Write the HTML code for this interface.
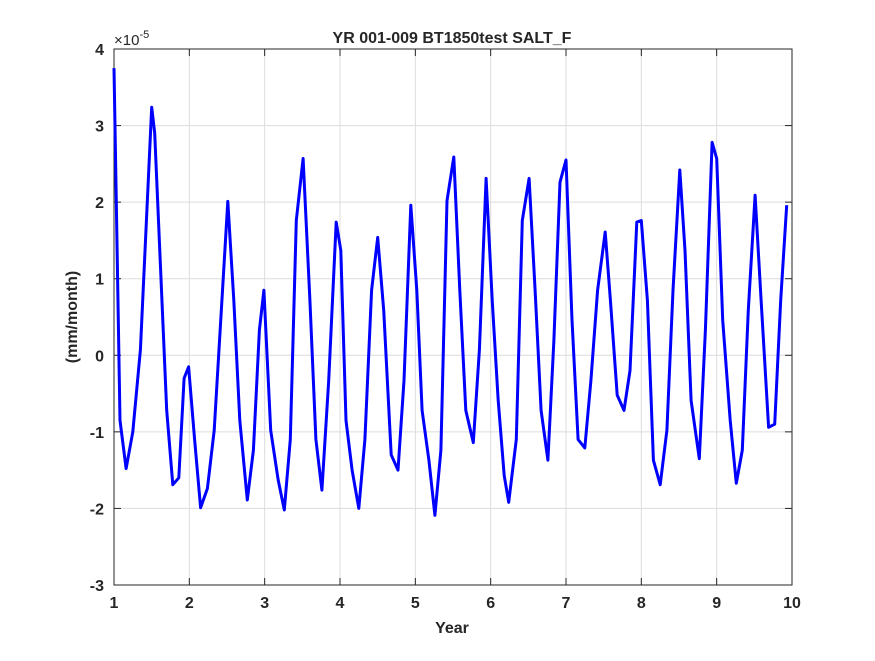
<!DOCTYPE html>
<html><head><meta charset="utf-8"><style>
body{margin:0;background:#fff;}
svg text{font-family:"Liberation Sans",sans-serif;fill:#262626;font-weight:bold;}
</style></head><body>
<svg id="chart" width="875" height="656" viewBox="0 0 875 656" xmlns="http://www.w3.org/2000/svg">
<rect width="875" height="656" fill="#fff"/>
<rect x="114" y="49" width="678" height="536" fill="#fff"/>
<g id="grid"></g>
<g id="ticks"></g>
<rect x="114" y="49" width="678" height="536" fill="none" stroke="#262626" stroke-width="1"/>
<polyline id="series" fill="none" stroke="#0000ff" stroke-width="3" stroke-linejoin="round"/>
<text x="452" y="43" font-size="16" text-anchor="middle">YR 001-009 BT1850test SALT_F</text>
<text x="114" y="45" font-size="15" font-weight="normal" style="font-weight:normal">×10<tspan dy="-7" font-size="11">-5</tspan></text>
<text x="452" y="633" font-size="16" text-anchor="middle">Year</text>
<text transform="translate(77,317) rotate(-90)" font-size="16" text-anchor="middle">(mm/month)</text>
</svg>
<script>
const xTicks=[1,2,3,4,5,6,7,8,9,10];
const yTicks=[-3,-2,-1,0,1,2,3,4];
const times=[1.0,1.03,1.08,1.16,1.25,1.35,1.50,1.54,1.70,1.78,1.86,1.93,1.99,2.07,2.15,2.24,2.33,2.51,2.59,2.67,2.77,2.85,2.93,2.99,3.08,3.18,3.26,3.34,3.42,3.51,3.60,3.68,3.76,3.85,3.95,4.01,4.08,4.16,4.25,4.33,4.42,4.50,4.58,4.68,4.77,4.85,4.94,5.02,5.09,5.18,5.26,5.34,5.42,5.51,5.59,5.67,5.77,5.85,5.94,6.02,6.10,6.18,6.24,6.34,6.42,6.51,6.59,6.67,6.76,6.84,6.92,7.0,7.08,7.16,7.25,7.33,7.42,7.52,7.59,7.68,7.77,7.85,7.94,8.0,8.08,8.16,8.25,8.34,8.42,8.51,8.58,8.66,8.77,8.85,8.94,9.0,9.08,9.18,9.26,9.34,9.42,9.51,9.59,9.69,9.77,9.85,9.93];
const values=[3.75,2.0,-0.85,-1.48,-1.0,0.07,3.24,2.9,-0.72,-1.69,-1.6,-0.3,-0.15,-1.1,-1.99,-1.74,-0.98,2.01,0.72,-0.85,-1.89,-1.24,0.33,0.85,-0.98,-1.63,-2.02,-1.1,1.76,2.57,0.72,-1.1,-1.76,-0.33,1.74,1.37,-0.85,-1.5,-2.0,-1.1,0.85,1.54,0.59,-1.3,-1.5,-0.33,1.96,0.85,-0.72,-1.37,-2.09,-1.24,2.02,2.59,0.85,-0.72,-1.14,0.07,2.31,0.72,-0.59,-1.57,-1.92,-1.1,1.76,2.31,0.85,-0.72,-1.37,0.2,2.26,2.55,0.46,-1.1,-1.21,-0.33,0.85,1.61,0.72,-0.52,-0.72,-0.2,1.74,1.76,0.72,-1.37,-1.69,-0.98,0.85,2.42,1.37,-0.59,-1.35,0.33,2.78,2.57,0.46,-0.85,-1.67,-1.24,0.59,2.09,0.72,-0.94,-0.9,0.72,1.96];
const X=t=>114+(t-1)*(678/9);
const Y=v=>585-(v+3)*(536/7);
const NS='http://www.w3.org/2000/svg';
const grid=document.getElementById('grid'), ticks=document.getElementById('ticks');
function mk(tag,attrs,parent){const e=document.createElementNS(NS,tag);for(const k in attrs)e.setAttribute(k,attrs[k]);parent.appendChild(e);return e;}
xTicks.forEach(t=>{
  const x=X(t);
  const g=mk('line',{x1:x,x2:x,y1:49,y2:585,stroke:'#dcdcdc','stroke-width':1},grid);
  
  
  mk('line',{x1:x,x2:x,y1:585,y2:578,stroke:'#262626'},ticks);
  mk('line',{x1:x,x2:x,y1:49,y2:56,stroke:'#262626'},ticks);
  const l=mk('text',{x:x,y:608,'font-size':16,'text-anchor':'middle'},ticks);
  l.textContent=t;
  
  
});
yTicks.forEach(v=>{
  const y=Y(v);
  const g=mk('line',{x1:114,x2:792,y1:y,y2:y,stroke:'#dcdcdc','stroke-width':1},grid);
  
  
  mk('line',{x1:114,x2:121,y1:y,y2:y,stroke:'#262626'},ticks);
  mk('line',{x1:792,x2:785,y1:y,y2:y,stroke:'#262626'},ticks);
  const l=mk('text',{x:104,y:y+6,'font-size':16,'text-anchor':'end'},ticks);
  l.textContent=v;
  
  
});
document.getElementById('series').setAttribute('points',times.map((t,i)=>X(t).toFixed(1)+','+Y(values[i]).toFixed(1)).join(' '));
</script>
</body></html>
